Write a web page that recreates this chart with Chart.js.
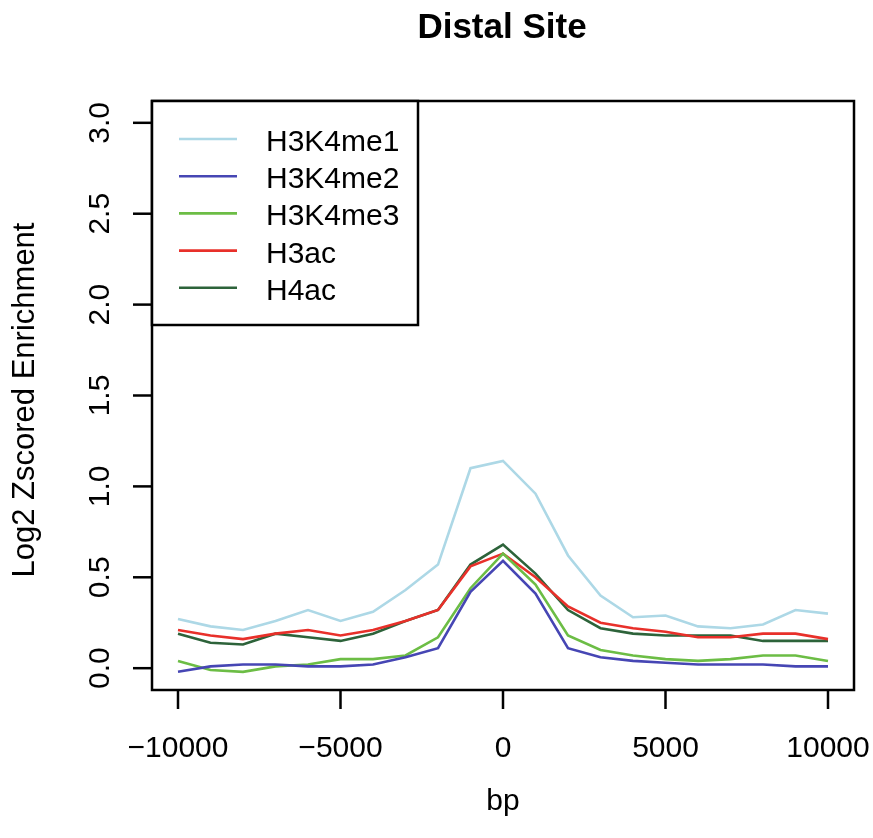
<!DOCTYPE html>
<html>
<head>
<meta charset="utf-8">
<script src="https://cdn.jsdelivr.net/npm/chart.js@4.4.1/dist/chart.umd.min.js"></script>
<style>
  body { margin: 0; background: #fff; }
  #wrap { width: 873px; height: 838px; }
</style>
</head>
<body>
<div id="wrap"><canvas id="c" width="873" height="838"></canvas></div>
<script>
// positions along the site (bp)
const bp = [-10000, -9000, -8000, -7000, -6000, -5000, -4000, -3000, -2000, -1000, 0,
            1000, 2000, 3000, 4000, 5000, 6000, 7000, 8000, 9000, 10000];

// series
const h3k4me1 = [0.27, 0.23, 0.21, 0.26, 0.32, 0.26, 0.31, 0.43, 0.57, 1.10, 1.14,
                 0.96, 0.62, 0.40, 0.28, 0.29, 0.23, 0.22, 0.24, 0.32, 0.30];
const h3k4me2 = [-0.02, 0.01, 0.02, 0.02, 0.01, 0.01, 0.02, 0.06, 0.11, 0.42, 0.59,
                 0.41, 0.11, 0.06, 0.04, 0.03, 0.02, 0.02, 0.02, 0.01, 0.01];
const h3k4me3 = [0.04, -0.01, -0.02, 0.01, 0.02, 0.05, 0.05, 0.07, 0.17, 0.44, 0.63,
                 0.46, 0.18, 0.10, 0.07, 0.05, 0.04, 0.05, 0.07, 0.07, 0.04];
const h3ac    = [0.21, 0.18, 0.16, 0.19, 0.21, 0.18, 0.21, 0.26, 0.32, 0.56, 0.63,
                 0.50, 0.34, 0.25, 0.22, 0.20, 0.17, 0.17, 0.19, 0.19, 0.16];
const h4ac    = [0.19, 0.14, 0.13, 0.19, 0.17, 0.15, 0.19, 0.26, 0.32, 0.57, 0.68,
                 0.52, 0.32, 0.22, 0.19, 0.18, 0.18, 0.18, 0.15, 0.15, 0.15];

const seriesNames = ['H3K4me1', 'H3K4me2', 'H3K4me3', 'H3ac', 'H4ac'];
const seriesColors = ['#add8e6', '#4646b4', '#6cbd45', '#e8302a', '#2d633a'];
const seriesValues = [h3k4me1, h3k4me2, h3k4me3, h3ac, h4ac];

const xTicks = [-10000, -5000, 0, 5000, 10000];
const yTicks = [0, 0.5, 1.0, 1.5, 2.0, 2.5, 3.0];

const font_family = '"Liberation Sans", Arial, sans-serif';

function make_dataset(i) {
    return {
        label: seriesNames[i],
        data: bp.map((x, j) => ({ x: x, y: seriesValues[i][j] })),
        borderColor: seriesColors[i],
        borderWidth: 2.6,
        pointRadius: 0,
        tension: 0,
        fill: false
    };
}

// draws the R style box, axes, labels and legend
const rFrame = {
    id: 'rFrame',
    afterDraw(chart) {
        const ctx = chart.ctx;
        const a = chart.chartArea;
        const xs = chart.scales.x;
        const ys = chart.scales.y;
        ctx.save();
        ctx.strokeStyle = '#000';
        ctx.fillStyle = '#000';
        ctx.lineWidth = 2.5;
        ctx.strokeRect(a.left, a.top, a.right - a.left, a.bottom - a.top);

        // x axis ticks + labels
        ctx.font = '30px ' + font_family;
        ctx.textAlign = 'center';
        ctx.textBaseline = 'alphabetic';
        xTicks.forEach(v => {
            const px = xs.getPixelForValue(v);
            ctx.beginPath();
            ctx.moveTo(px, a.bottom);
            ctx.lineTo(px, a.bottom + 19);
            ctx.stroke();
            ctx.fillText(v < 0 ? '\u2212' + Math.abs(v) : String(v), px, 757);
        });

        // y axis ticks + rotated labels
        yTicks.forEach(v => {
            const py = ys.getPixelForValue(v);
            ctx.beginPath();
            ctx.moveTo(a.left, py);
            ctx.lineTo(a.left - 19, py);
            ctx.stroke();
            ctx.save();
            ctx.translate(109, py);
            ctx.rotate(-Math.PI / 2);
            ctx.fillText(v.toFixed(1), 0, 0);
            ctx.restore();
        });

        // axis titles
        ctx.fillText('bp', (a.left + a.right) / 2, 810);
        ctx.save();
        ctx.font = '31px ' + font_family;
        ctx.translate(34, 400);
        ctx.rotate(-Math.PI / 2);
        ctx.fillText('Log2 Zscored Enrichment', 0, 0);
        ctx.restore();

        // title
        ctx.font = 'bold 35px ' + font_family;
        ctx.fillText('Distal Site', 502, 38);

        // legend
        ctx.fillStyle = '#fff';
        ctx.fillRect(a.left, a.top, 266, 224);
        ctx.strokeStyle = '#000';
        ctx.strokeRect(a.left, a.top, 266, 224);
        ctx.font = '30px ' + font_family;
        ctx.textAlign = 'left';
        chart.data.datasets.forEach((ds, i) => {
            const y = 139 + i * 37.2;
            ctx.strokeStyle = ds.borderColor;
            ctx.lineWidth = 2.6;
            ctx.beginPath();
            ctx.moveTo(179, y);
            ctx.lineTo(237, y);
            ctx.stroke();
            ctx.fillStyle = '#000';
            ctx.fillText(ds.label, 266, y + 12);
        });
        ctx.restore();
    }
};

const chart = new Chart(document.getElementById('c'), {
    type: 'line',
    data: { datasets: seriesValues.map((_, i) => make_dataset(i)) },
    options: {
        responsive: false,
        animation: false,
        layout: { padding: { left: 152, right: 19, top: 101, bottom: 148 } },
        scales: {
            x: { type: 'linear', min: -10800, max: 10800, display: false },
            y: { min: -0.12, max: 3.12, display: false }
        },
        plugins: {
            legend: { display: false },
            tooltip: { enabled: false }
        }
    },
    plugins: [rFrame]
});
</script>
</body>
</html>
